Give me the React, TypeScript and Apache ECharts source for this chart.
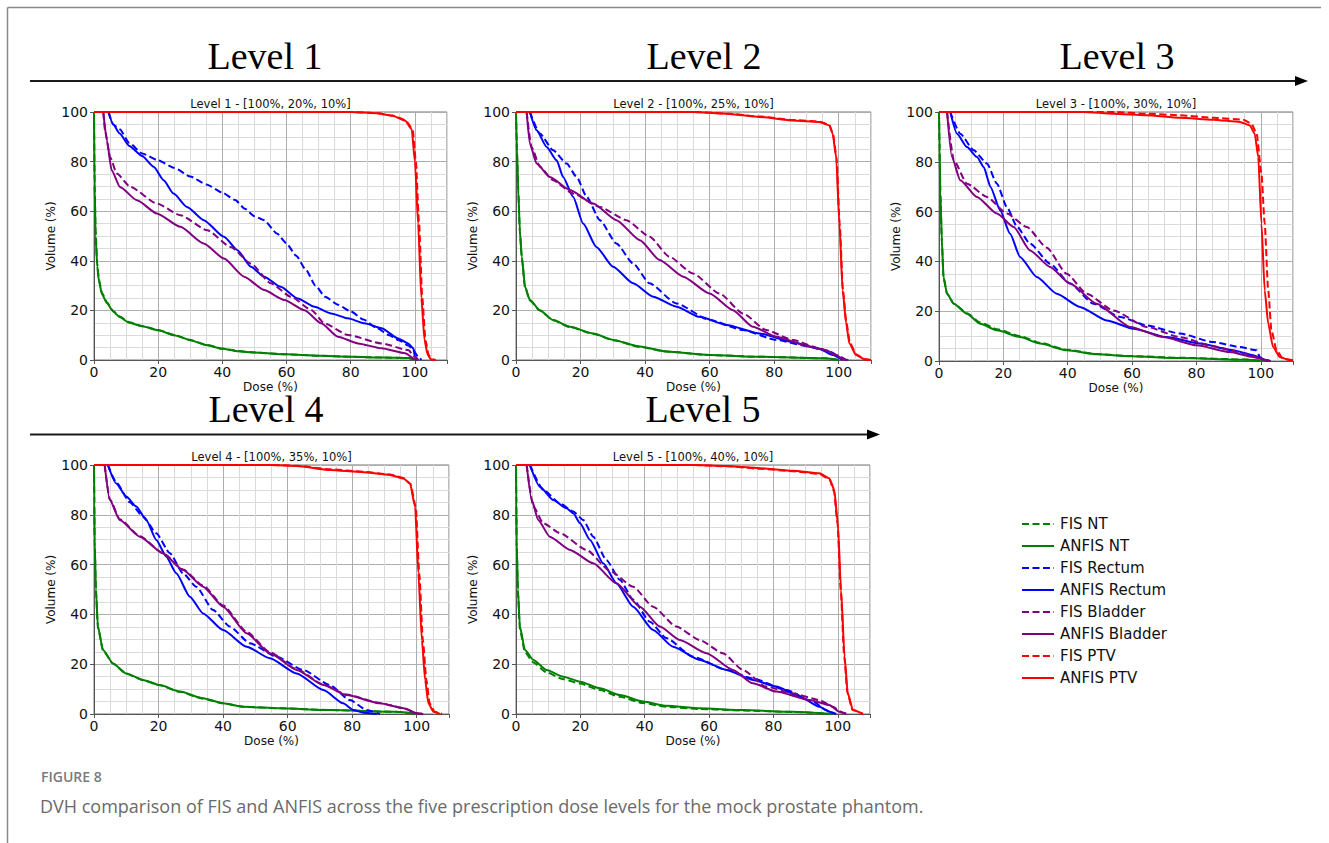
import React, { useEffect, useRef } from 'react';
import * as echarts from 'echarts';

// ---------- labels ----------
const SERIES_NAMES = ['FIS NT', 'ANFIS NT', 'FIS Rectum', 'ANFIS Rectum', 'FIS Bladder', 'ANFIS Bladder', 'FIS PTV', 'ANFIS PTV'];
const SERIES_COLORS = ['#008000', '#008000', '#0000ff', '#0000ff', '#800080', '#800080', '#ff0000', '#ff0000'];
const SERIES_DASHED = [true, false, true, false, true, false, true, false];
const LEVEL_HEADERS = ['Level 1', 'Level 2', 'Level 3', 'Level 4', 'Level 5'];
const PANEL_TITLES = [
  'Level 1 - [100%, 20%, 10%]',
  'Level 2 - [100%, 25%, 10%]',
  'Level 3 - [100%, 30%, 10%]',
  'Level 4 - [100%, 35%, 10%]',
  'Level 5 - [100%, 40%, 10%]',
];
const X_TICKS = [0, 20, 40, 60, 80, 100];
const Y_TICKS = [0, 20, 40, 60, 80, 100];
const X_LABEL = 'Dose (%)';
const Y_LABEL = 'Volume (%)';
const CAPTION_TAG = 'FIGURE 8';
const CAPTION_TEXT = 'DVH comparison of FIS and ANFIS across the five prescription dose levels for the mock prostate phantom.';

// ---------- Level 1 ----------
const L1_FIS_NT = [[0,100],[0.2,72],[0.5,52],[1,39],[1.5,32.5],[2.5,27],[4,23.3],[6,19.8],[8,17.5],[11,15.2],[15,13.7],[20,12.1],[25,10.1],[30,8.1],[35,6.1],[40,4.6],[45,3.6],[50,3],[60,2.3],[70,1.7],[80,1.3],[90,1],[98,0.8],[100,0]];
const L1_ANFIS_NT = [[0,100],[0.2,70],[0.5,50],[1,38],[1.5,32],[2.5,26.5],[4,23],[6,19.5],[8,17.3],[11,15],[15,13.6],[20,12],[25,10],[30,8],[35,6],[40,4.5],[45,3.5],[50,3],[60,2.3],[70,1.7],[80,1.3],[90,1],[98,0.8],[100,0]];
const L1_FIS_RECTUM = [[4.5,100],[6,95],[8,93],[11,87.5],[15,83.3],[20,80.5],[25,77.5],[30,74],[35,70.8],[40,67.5],[44,64.5],[47,61],[50,58],[53,56.4],[57,51],[60,47],[63,42],[66,36.5],[69,30],[72,25.5],[76,22.3],[80,19.6],[84,16.3],[88,13],[92,10],[95,8],[98,5.8],[99.5,4],[101,1.3],[102,0]];
const L1_ANFIS_RECTUM = [[4.5,100],[6,95],[8,91.3],[11,86.3],[15,82.3],[18.6,77.9],[21.7,72.5],[24.8,67.1],[29,61.7],[34.2,56.4],[40.5,49.7],[44.7,44.3],[48.9,37.6],[53,33.6],[58.2,29.5],[63.5,24.8],[68.7,21.5],[73.9,18.8],[79.1,16.8],[84.3,14.8],[89.6,12.8],[94.8,8.7],[97.9,6.7],[99.5,4.7],[100,1.3],[101,0]];
const L1_FIS_BLADDER = [[2.9,100],[3.5,92],[5,81.9],[7.1,75.2],[11.3,69.8],[19.6,63.1],[26.9,58.4],[35.3,52.3],[42.6,45.6],[48.9,38.9],[55.1,30.9],[61.4,25.5],[67.8,20.1],[71.8,14.8],[79.1,10.1],[89.6,6.7],[97.9,4],[100,1.3],[101,0]];
const L1_ANFIS_BLADDER = [[2.9,100],[4,88.6],[5.5,76.5],[8.1,69.8],[13.4,64.4],[19.6,59.1],[26.9,53.7],[34.2,47],[40.5,40.9],[46.8,33.6],[53,28.2],[59.3,24.2],[65.6,20.1],[70.8,14.8],[76,9.4],[82.3,6.7],[89.6,4.7],[97,2.7],[100,0.3],[101,0]];
const L1_FIS_PTV = [[0,100],[80,100],[88,99.6],[93,98.6],[97,96.8],[99.3,93],[100.3,80],[101.3,55],[102.3,25],[103.3,8],[104.3,2],[105.5,0.3],[106.5,0]];
const L1_ANFIS_PTV = [[0,100],[80,100],[88,99.5],[93,98.5],[97,96.5],[99,93],[100,80],[101,55],[102,25],[103,8],[104,2],[105,0.3],[106,0]];

// ---------- Level 2 ----------
const L2_FIS_NT = [[0,100],[0.3,84],[0.7,68],[1.2,51.5],[1.8,41],[2.8,29.3],[4.3,24],[7.4,20],[11.5,16],[16.7,13.3],[23.9,10.6],[30.1,8],[38.4,5.3],[46.6,3.4],[60,2],[75.5,1.3],[96,0.7],[100,0]];
const L2_ANFIS_NT = [[0,100],[0.3,85],[0.7,68.5],[1.2,52],[1.8,41.6],[2.8,29.5],[4.3,24.2],[7.4,20.1],[11.5,16.1],[16.7,13.4],[23.9,10.7],[30.1,8.1],[38.4,5.4],[46.6,3.4],[60,2],[75.5,1.3],[96,0.7],[100,0]];
const L2_FIS_RECTUM = [[4.3,100],[7.4,91.3],[11.5,84.6],[15.7,79.2],[18.8,73.8],[21.9,65.8],[26,56.4],[31.1,47],[36.3,38.9],[41.4,30.9],[49.7,22.8],[60,16.1],[70.3,12.1],[80.6,8.1],[90.9,5.4],[97.1,3.4],[101.2,0.7],[102,0]];
const L2_ANFIS_RECTUM = [[4.3,100],[6.4,92.6],[9.5,85.9],[12.6,80.5],[14.6,73.8],[17.7,65.8],[20.8,55],[24.9,45.6],[30.1,37.6],[36.3,30.9],[42.5,25.5],[49.7,21.5],[56.9,17.4],[65.2,14.1],[75.5,10.7],[85.8,7.2],[94,4.5],[98.1,2],[101.2,0]];
const L2_FIS_BLADDER = [[3.3,100],[4.8,85.9],[7.4,77.9],[11.5,72.5],[17.7,67.1],[26,61.7],[34.2,56.4],[41.4,49.7],[47.6,41.6],[54.8,34.9],[63.1,26.8],[70.3,18.8],[77.5,12.1],[85.8,8.1],[94,4.7],[99.2,2],[102.3,0]];
const L2_ANFIS_BLADDER = [[3.3,100],[4.3,87.2],[6.4,79.2],[10.5,73.8],[16.7,68.5],[23.9,63.1],[31.1,56.4],[38.4,48.3],[44.5,40.3],[51.8,33.6],[60,26.8],[67.2,20.1],[73.4,13.4],[80.6,9.4],[90.9,5.4],[96,4],[99.2,2],[101.2,0.3],[103,0]];
const L2_FIS_PTV = [[0,100],[55,100],[65.2,99.4],[75.5,98.2],[85.8,96.8],[94,96.1],[97.1,94.8],[98.2,91.3],[99.3,81.9],[100.3,55],[101.3,28.2],[102.4,14.8],[103.5,6.7],[105.6,2],[108.2,0.3],[110,0]];
const L2_ANFIS_PTV = [[0,100],[55,100],[65.2,99.3],[75.5,98],[85.8,96.6],[94,96],[97.1,94.6],[98.1,91.3],[99.2,81.9],[100.2,55],[101.2,28.2],[102.3,14.8],[103.3,6.7],[105.4,2],[108,0.3],[110,0]];

// ---------- Level 3 ----------
const L3_FIS_NT = [[0,100],[0.2,84],[0.4,68],[0.9,47.5],[1.4,33.5],[2.5,27],[4.6,23],[8.7,19.2],[12.8,15.5],[18,12.8],[25.2,10],[31.4,7.3],[39.7,4.5],[49,2.8],[59.4,2],[74.9,1.3],[95.6,0.6],[100.7,0]];
const L3_ANFIS_NT = [[0,100],[0.2,85],[0.4,68.3],[0.9,48],[1.4,33.7],[2.5,27],[4.6,23],[8.7,19],[12.8,15],[18,12.3],[25.2,9.6],[31.4,7],[39.7,4.3],[49,2.7],[59.4,1.9],[74.9,1.2],[95.6,0.5],[100.7,0]];
const L3_FIS_RECTUM = [[3.5,100],[6.6,91.3],[10.8,84.6],[14.9,79.3],[18,71.2],[21.1,61.8],[24.3,53.8],[28.3,47.1],[34.5,39.1],[40.7,31.1],[48,23],[56.3,17.7],[64.5,14.3],[74.9,11],[85.2,7.6],[93.5,5.6],[98.7,4.3],[99.7,1.6],[100.7,0.5],[102,0]];
const L3_ANFIS_RECTUM = [[3.5,100],[5.6,91.3],[8.7,85.9],[11.8,81.9],[13.9,77.9],[16,69.9],[19,60.5],[22.1,51.1],[25.2,41.8],[30.4,33.7],[36.6,27],[43.8,21.7],[52.1,16.3],[60.4,13],[70.7,9.6],[81.1,7],[91.4,4.3],[97.6,2.3],[101.8,0.3],[103,0]];
const L3_FIS_BLADDER = [[2.5,100],[4.6,80.6],[8.7,71.2],[14.9,65.9],[21.1,59.2],[27.3,53.8],[33.5,45.5],[39.7,35],[45.9,27],[54.2,20.3],[64.5,13.7],[74.9,9.6],[85.2,5.9],[95.6,2.9],[101.8,0.3],[103,0]];
const L3_ANFIS_BLADDER = [[2.5,100],[4,81.9],[6.6,72.6],[11.8,65.9],[18,59.2],[23.2,53.8],[28.3,44.4],[34.5,37.8],[40.7,31.1],[49,23],[59.4,13.7],[69.7,9.6],[80,6.3],[90.4,3.6],[97.6,1.6],[101.8,0.3],[103,0]];
const L3_FIS_PTV = [[0,100],[55,100],[64.5,99.3],[74.9,98.7],[85.2,97.7],[94.5,96.9],[97.1,95.3],[98.7,91.3],[100.2,75.2],[101.2,55.2],[102.3,28.4],[103.3,12.3],[104.9,4.3],[106.9,0.9],[110,0.3]];
const L3_ANFIS_PTV = [[0,100],[45,100],[54.2,99.3],[64.5,98.7],[74.9,97.7],[85.2,96.9],[93.5,96],[96.6,94.6],[98.1,91.3],[99.2,82],[100.2,55.2],[101.2,28.4],[102.3,15],[103.8,5.6],[105.9,1.6],[109,0.3],[110,0]];

// ---------- Level 4 ----------
const L4_FIS_NT = [[0,100],[0.1,84],[0.2,69],[0.6,49.5],[1.2,34.8],[2.8,25.5],[5.9,20.2],[10,16.2],[15.2,13.6],[20.4,11.5],[26.6,8.9],[33.8,6.2],[40,4.3],[46.2,2.9],[57.6,2.3],[73.1,1.6],[93.8,0.9],[100,0]];
const L4_ANFIS_NT = [[0,100],[0.1,85],[0.2,69.9],[0.6,50],[1.2,35.1],[2.8,25.7],[5.9,20.3],[10,16.3],[15.2,13.7],[20.4,11.6],[26.6,9],[33.8,6.3],[40,4.3],[46.2,2.9],[57.6,2.3],[73.1,1.6],[93.8,0.9],[100,0]];
const L4_FIS_RECTUM = [[4.3,100],[7,92.8],[11.1,85],[15.2,79.3],[19.3,72.6],[23.5,64.6],[27.6,56.5],[31.7,51.1],[36.9,41.8],[42.1,35.1],[48.3,28.4],[56.6,23],[64.8,17.7],[73.1,11.6],[79.3,5.6],[84.5,1.6],[88.6,0]];
const L4_ANFIS_RECTUM = [[4.3,100],[6.9,92.6],[10,87.3],[13.1,83.3],[16.2,77.9],[19.3,69.9],[22.4,63.2],[25.5,56.5],[29.7,47.1],[33.8,40.4],[40,33.7],[47.3,27],[54.5,22.4],[62.8,16.3],[71.1,9.6],[77.2,4.3],[80.4,1.6],[83.5,0.5],[87.6,0]];
const L4_FIS_BLADDER = [[3.3,100],[4.9,86.2],[8,78.2],[14.2,71.4],[21.4,64.6],[27.6,58],[33.8,51.6],[40,43.6],[47.3,33],[54.5,24.8],[62.8,18],[71.1,11.8],[78.3,7.8],[88.6,4.4],[95.9,2.4],[100,0.3],[102,0]];
const L4_ANFIS_BLADDER = [[3.3,100],[4.9,85.9],[8,77.9],[14.2,71.2],[21.4,64.5],[27.6,57.8],[33.8,51.1],[40,43.1],[47.3,32.4],[54.5,24.4],[62.8,17.7],[71.1,11.6],[78.3,7.6],[88.6,4.3],[95.9,2.3],[100,0.3],[102,0]];
const L4_FIS_PTV = [[0,100],[55,100],[62.8,99.7],[73.1,98.3],[83.5,97.3],[91.7,96.2],[95.9,94.8],[98,92.6],[99.7,83.3],[100.8,56.5],[101.9,29.7],[103,13.7],[104,4.3],[105.6,0.9],[107.8,0]];
const L4_ANFIS_PTV = [[0,100],[55,100],[62.8,99.6],[73.1,98],[83.5,97.1],[91.7,96],[95.9,94.6],[97.9,92.6],[99.5,83.3],[100.5,56.5],[101.6,29.7],[102.6,13.7],[103.6,4.3],[105.2,0.9],[107.2,0]];

// ---------- Level 5 ----------
const L5_FIS_NT = [[0,100],[0.1,84],[0.2,69],[0.6,49],[1.2,34],[2.8,24.8],[5.4,20.7],[9.5,16.7],[14.7,14],[19.9,12.2],[26.1,9.6],[32.3,6.9],[39.5,4.4],[46.7,2.9],[57.1,2],[70.5,1.4],[86,0.8],[98.4,0]];
const L5_ANFIS_NT = [[0,100],[0.1,85],[0.2,69.9],[0.6,50],[1.2,35.1],[2.8,25.7],[5.4,21.7],[9.5,17.7],[14.7,15],[19.9,13],[26.1,10.3],[32.3,7.6],[39.5,5],[46.7,3.3],[57.1,2.3],[70.5,1.6],[86,0.9],[98.4,0]];
const L5_FIS_RECTUM = [[4.3,100],[8.5,90],[13.7,84.6],[17.8,81.3],[20.9,77.9],[24,71.2],[28.1,61.8],[32.3,53.8],[36.4,46],[41.6,37],[46.7,30.5],[55,23],[65.4,17.7],[73.6,14.3],[84,9.6],[92.2,5],[96.4,1.6],[98.4,0]];
const L5_ANFIS_RECTUM = [[4.3,100],[7.4,91.3],[11.6,85.9],[15.7,82.6],[17.8,80.6],[19.9,76.6],[23,69.9],[27.1,60.5],[31.2,52.5],[36.4,43.1],[42.6,33.7],[48.8,27],[57.1,21.7],[65.4,17.7],[73.6,13.7],[80.9,11],[88.1,7],[94.3,2.9],[97.4,0.9],[99.5,0]];
const L5_FIS_BLADDER = [[3.3,100],[5.4,83.3],[8.5,76.6],[13.7,72.6],[21.9,65.9],[29.2,57.5],[36.4,51.1],[42.6,43.1],[49.8,35.1],[57.1,29.7],[64.3,24.4],[70.5,17.7],[77.7,11],[86,8.3],[94.3,5.6],[98.4,2.9],[101.5,0.5],[103,0]];
const L5_ANFIS_BLADDER = [[3.3,100],[4.9,85.9],[6.9,77.9],[10.5,71.2],[16.8,65.9],[24,60.5],[31.2,52.5],[38.5,43.1],[44.7,35.1],[50.9,29.7],[59.2,24.4],[67.4,17.7],[73.6,12.3],[80.9,9],[91.2,5.6],[97.4,3.6],[100.5,0.9],[102.6,0]];
const L5_FIS_PTV = [[0,100],[55,100],[65.4,99.5],[75.7,98.5],[86,97.5],[94.3,96.4],[97.4,94.2],[98.8,89.5],[99.9,76.6],[100.9,49.8],[102,23],[103,8.3],[104.6,1.6],[107.8,0]];
const L5_ANFIS_PTV = [[0,100],[55,100],[65.4,99.6],[75.7,98.7],[86,97.7],[94.3,96.7],[97.4,94.6],[98.9,90],[100,76.6],[101,49.8],[102.1,23],[103.1,8.3],[104.7,1.6],[107.8,0]];

const LEVEL_DATA = [
  [L1_FIS_NT, L1_ANFIS_NT, L1_FIS_RECTUM, L1_ANFIS_RECTUM, L1_FIS_BLADDER, L1_ANFIS_BLADDER, L1_FIS_PTV, L1_ANFIS_PTV],
  [L2_FIS_NT, L2_ANFIS_NT, L2_FIS_RECTUM, L2_ANFIS_RECTUM, L2_FIS_BLADDER, L2_ANFIS_BLADDER, L2_FIS_PTV, L2_ANFIS_PTV],
  [L3_FIS_NT, L3_ANFIS_NT, L3_FIS_RECTUM, L3_ANFIS_RECTUM, L3_FIS_BLADDER, L3_ANFIS_BLADDER, L3_FIS_PTV, L3_ANFIS_PTV],
  [L4_FIS_NT, L4_ANFIS_NT, L4_FIS_RECTUM, L4_ANFIS_RECTUM, L4_FIS_BLADDER, L4_ANFIS_BLADDER, L4_FIS_PTV, L4_ANFIS_PTV],
  [L5_FIS_NT, L5_ANFIS_NT, L5_FIS_RECTUM, L5_ANFIS_RECTUM, L5_FIS_BLADDER, L5_ANFIS_BLADDER, L5_FIS_PTV, L5_ANFIS_PTV],
];

// ---------- layout (positions / styles) ----------
const PANELS = [
  { left: 94, top: 112, width: 353, height: 248 },
  { left: 516, top: 112, width: 355, height: 248 },
  { left: 939, top: 112, width: 354, height: 249 },
  { left: 94, top: 465, width: 355, height: 249 },
  { left: 516, top: 465, width: 354, height: 249 },
];
const HEADER_POS = [
  { x: 265, y: 56 }, { x: 704, y: 56 }, { x: 1117, y: 56 },
  { x: 266, y: 409 }, { x: 703, y: 409 },
];
const FONT = '"DejaVu Sans", sans-serif';
const GRID_LINE_COLORS = ['#adadad', '#dadada', '#dadada', '#dadada'];
const AXIS_COLOR = '#555555';

function buildOption() {
  const grid: any[] = [];
  const xAxis: any[] = [];
  const yAxis: any[] = [];
  const series: any[] = [];
  const graphic: any[] = [];

  PANELS.forEach((p, i) => {
    grid.push({ ...p, show: true, borderColor: '#777', borderWidth: 1, backgroundColor: 'transparent', containLabel: false, outerBoundsMode: 'none' });
    xAxis.push({
      type: 'value', gridIndex: i, position: 'bottom', min: 0, max: 110, interval: 5,
      axisLine: { show: false }, axisTick: { show: false }, axisLabel: { show: false },
      splitLine: { show: true, lineStyle: { color: GRID_LINE_COLORS, width: 1 } },
    });
    xAxis.push({
      type: 'value', gridIndex: i, position: 'bottom', min: 0, max: 110, interval: 20,
      axisLine: { show: true, onZero: false, lineStyle: { color: AXIS_COLOR, width: 1 } },
      axisTick: { show: true, inside: false, length: 4, lineStyle: { color: AXIS_COLOR } },
      axisLabel: {
        show: true, margin: 5, fontSize: 14, color: '#111', fontFamily: FONT,
        formatter: (v: number) => (X_TICKS.indexOf(v) >= 0 ? String(v) : ''),
      },
      splitLine: { show: false },
      name: X_LABEL, nameLocation: 'middle', nameGap: 21,
      nameTextStyle: { fontSize: 12, color: '#111', fontFamily: FONT },
    });
    yAxis.push({
      type: 'value', gridIndex: i, position: 'left', min: 0, max: 100, interval: 5,
      axisLine: { show: false }, axisTick: { show: false }, axisLabel: { show: false },
      splitLine: { show: true, lineStyle: { color: GRID_LINE_COLORS, width: 1 } },
    });
    yAxis.push({
      type: 'value', gridIndex: i, position: 'left', min: 0, max: 100, interval: 20,
      axisLine: { show: true, onZero: false, lineStyle: { color: AXIS_COLOR, width: 1 } },
      axisTick: { show: true, inside: false, length: 4, lineStyle: { color: AXIS_COLOR } },
      axisLabel: {
        show: true, margin: 6, fontSize: 14, color: '#111', fontFamily: FONT,
        formatter: (v: number) => (Y_TICKS.indexOf(v) >= 0 ? String(v) : ''),
      },
      splitLine: { show: false },
      name: Y_LABEL, nameLocation: 'middle', nameGap: 35,
      nameTextStyle: { fontSize: 12, color: '#111', fontFamily: FONT },
    });

    LEVEL_DATA[i].forEach((data, k) => {
      series.push({
        type: 'line', name: SERIES_NAMES[k], xAxisIndex: 2 * i + 1, yAxisIndex: 2 * i + 1,
        data, showSymbol: false, symbol: 'none', smooth: 0.2, smoothMonotone: 'x',
        lineStyle: { color: SERIES_COLORS[k], width: 2, type: SERIES_DASHED[k] ? [7, 3.5] : 'solid' },
        itemStyle: { color: SERIES_COLORS[k] },
        emphasis: { disabled: true },
      });
    });

    graphic.push({
      type: 'text', x: p.left + p.width / 2, y: p.top - 8,
      style: { text: PANEL_TITLES[i], fill: '#111', font: `11.5px ${FONT}`, textAlign: 'center', textVerticalAlign: 'middle', align: 'center', verticalAlign: 'middle' },
    });
  });

  LEVEL_HEADERS.forEach((h, i) => {
    graphic.push({
      type: 'text', x: HEADER_POS[i].x, y: HEADER_POS[i].y,
      style: { text: h, fill: '#000', font: '38px "Liberation Serif", "Times New Roman", serif', lineHeight: 26, textAlign: 'center', textVerticalAlign: 'middle', align: 'center', verticalAlign: 'middle' },
    });
  });

  // arrows
  graphic.push({ type: 'line', shape: { x1: 30, y1: 81, x2: 1297, y2: 81 }, style: { stroke: '#1a1a1a', lineWidth: 2 } });
  graphic.push({ type: 'polygon', shape: { points: [[1295, 76], [1308, 81], [1295, 86]] }, style: { fill: '#000' } });
  graphic.push({ type: 'line', shape: { x1: 30, y1: 434.5, x2: 869, y2: 434.5 }, style: { stroke: '#1a1a1a', lineWidth: 2 } });
  graphic.push({ type: 'polygon', shape: { points: [[867, 429.5], [880, 434.5], [867, 439.5]] }, style: { fill: '#000' } });

  // frame
  graphic.push({ type: 'line', shape: { x1: 7.5, y1: 7.5, x2: 1321, y2: 7.5 }, style: { stroke: '#8a8a8a', lineWidth: 1.5 } });
  graphic.push({ type: 'line', shape: { x1: 7.5, y1: 7.5, x2: 7.5, y2: 843 }, style: { stroke: '#8a8a8a', lineWidth: 1.5 } });

  // caption
  graphic.push({
    type: 'text', x: 41, y: 776,
    style: { text: CAPTION_TAG, fill: '#7a7a7a', font: '600 14px "Open Sans", sans-serif', lineHeight: 16, textAlign: 'left', textVerticalAlign: 'middle', align: 'left', verticalAlign: 'middle' },
  });
  graphic.push({
    type: 'text', x: 40, y: 806,
    style: { text: CAPTION_TEXT, fill: '#6a6a6a', font: '18px "Open Sans", sans-serif', lineHeight: 22, textAlign: 'left', textVerticalAlign: 'middle', align: 'left', verticalAlign: 'middle' },
  });

  return {
    animation: false,
    backgroundColor: '#ffffff',
    textStyle: { fontFamily: FONT },
    legend: {
      data: SERIES_NAMES, orient: 'vertical', left: 1016, top: 510,
      itemWidth: 32, itemHeight: 14, itemGap: 4,
      itemStyle: { color: 'rgba(0,0,0,0)', borderColor: 'rgba(0,0,0,0)', borderWidth: 0, opacity: 0 },
      textStyle: { fontSize: 15, color: '#111', fontFamily: FONT, lineHeight: 18, padding: [0, 0, 0, 1] },
      selectedMode: false,
    },
    grid, xAxis, yAxis, series, graphic,
  };
}

export default function App() {
  const ref = useRef<HTMLDivElement>(null);
  useEffect(() => {
    if (!ref.current) return;
    const chart = echarts.init(ref.current, null, { renderer: 'svg' });
    chart.setOption(buildOption() as any);
    return () => chart.dispose();
  }, []);
  return <div ref={ref} style={{ position: 'absolute', left: 0, top: 0, width: 1329, height: 843, background: '#fff' }} />;
}
